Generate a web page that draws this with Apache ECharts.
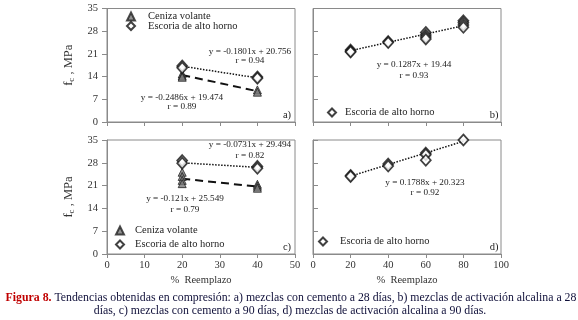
<!DOCTYPE html>
<html><head><meta charset="utf-8">
<script src="https://cdn.jsdelivr.net/npm/echarts@6/dist/echarts.min.js"></script>
<style>html,body{margin:0;padding:0;background:#fff}#c{width:578px;height:320px}</style>
</head><body><div id="c"></div>
<script>
// Panel a) cement mixes, 28 days
const aCenizaX = [20, 20, 20, 40, 40];
const aCenizaY = [14.8, 14.2, 13.8, 9.9, 9.2];
const aEscoriaX = [20, 20, 40, 40];
const aEscoriaY = [17.3, 16.7, 13.9, 13.5];
const aTrendCenizaX = [20, 40];
const aTrendCenizaY = [14.5, 9.5];
const aTrendEscoriaX = [20, 40];
const aTrendEscoriaY = [17.2, 13.6];
// Panel b) alkali activated, 28 days
const bEscoriaX = [20, 20, 20, 40, 40, 60, 60, 60, 60, 80, 80, 80, 80];
const bEscoriaY = [22.2, 21.8, 21.6, 24.8, 24.5, 27.6, 26.8, 26.2, 25.6, 31.2, 30.6, 29.9, 29.2];
const bTrendX = [20, 80];
const bTrendY = [22.0, 29.7];
// Panel c) cement mixes, 90 days
const cCenizaX = [20, 20, 20, 20, 40, 40, 40];
const cCenizaY = [25.1, 23.8, 22.6, 21.6, 21.4, 20.8, 20.2];
const cEscoriaX = [20, 20, 40, 40];
const cEscoriaY = [28.7, 27.9, 26.9, 26.3];
const cTrendCenizaX = [20, 40];
const cTrendCenizaY = [23.1, 20.7];
const cTrendEscoriaX = [20, 40];
const cTrendEscoriaY = [28.0, 26.6];
// Panel d) alkali activated, 90 days
const dEscoriaX = [20, 20, 40, 40, 60, 60, 60, 80];
const dEscoriaY = [24.1, 23.8, 27.6, 27.0, 31.0, 30.5, 28.8, 35.0];
const dTrendX = [20, 80];
const dTrendY = [23.9, 34.6];

const yTicks = [0, 7, 14, 21, 28, 35];
const xTicksLeft = [0, 10, 20, 30, 40, 50];
const xTicksRight = [0, 20, 40, 60, 80, 100];

const serNames = ['Ceniza volante', 'Escoria de alto horno'];
const equations = [
  {t: 'y = -0.1801x + 20.756', r: 'r = 0.94'},
  {t: 'y = -0.2486x + 19.474', r: 'r = 0.89'},
  {t: 'y = 0.1287x + 19.44', r: 'r = 0.93'},
  {t: 'y = -0.0731x + 29.494', r: 'r = 0.82'},
  {t: 'y = -0.121x + 25.549', r: 'r = 0.79'},
  {t: 'y = 0.1788x + 20.323', r: 'r = 0.92'}
];
const panelLabels = ['a)', 'b)', 'c)', 'd)'];
const captionRed = 'Figura 8.';
const captionLine1 = ' Tendencias obtenidas en compresión: a) mezclas con cemento a 28 días, b) mezclas de activación alcalina a 28';
const captionLine2 = 'días, c) mezclas con cemento a 90 días, d) mezclas de activación alcalina a 90 días.';

const FONT = 'Liberation Serif';
const zip = (xs, ys) => xs.map((x, i) => [x, ys[i]]);
const axisCol = '#8a8a8a';

const grids = [
  {left: 107, top: 8.5, width: 188, height: 113.5},
  {left: 313, top: 8.5, width: 188, height: 113.5},
  {left: 107, top: 140, width: 188, height: 114},
  {left: 313, top: 140, width: 188, height: 114}
];

function xAxis(i) {
  const right = i % 2 === 1;
  const ticks = right ? xTicksRight : xTicksLeft;
  const showLab = i >= 2;
  return {
    gridIndex: i, type: 'value', min: ticks[0], max: ticks[ticks.length - 1],
    interval: ticks[1] - ticks[0],
    axisLine: {lineStyle: {color: axisCol, width: 1}},
    axisTick: {show: true, length: 4, lineStyle: {color: axisCol}},
    splitLine: {show: false},
    axisLabel: {show: showLab, fontFamily: FONT, fontSize: 10.5, color: '#333', margin: 6},
    name: showLab ? '%  Reemplazo' : '',
    nameLocation: 'middle', nameGap: 21,
    nameTextStyle: {fontFamily: FONT, fontSize: 10.5, color: '#333'}
  };
}
function yAxis(i) {
  const left = i % 2 === 0;
  return {
    gridIndex: i, type: 'value', min: yTicks[0], max: yTicks[yTicks.length - 1],
    interval: yTicks[1] - yTicks[0],
    axisLine: {lineStyle: {color: axisCol, width: 1}},
    axisTick: {show: true, length: 5, inside: !left, lineStyle: {color: axisCol}},
    splitLine: {show: false},
    axisLabel: {show: left, fontFamily: FONT, fontSize: 10.5, color: '#333', margin: 9},
    name: left ? '{a|f}{s|c}{a| , MPa}' : '',
    nameLocation: 'middle', nameGap: 31, nameRotate: 90,
    nameTextStyle: {
      rich: {
        a: {fontFamily: FONT, fontSize: 12.5, color: '#333'},
        s: {fontFamily: FONT, fontSize: 9, color: '#333', padding: [6, 0, 0, 0]}
      }
    }
  };
}

const triStyle = {color: '#777', borderColor: '#222', borderWidth: 1};
const diaStyle = {color: '#fff', borderColor: '#111', borderWidth: 1.7};

function scatterC(i, xs, ys) {
  return {type: 'scatter', name: serNames[0], xAxisIndex: i, yAxisIndex: i,
    data: zip(xs, ys), symbol: 'triangle', symbolSize: 8, itemStyle: triStyle, clip: false, z: 3};
}
function scatterE(i, xs, ys) {
  return {type: 'scatter', name: serNames[1], xAxisIndex: i, yAxisIndex: i,
    data: zip(xs, ys), symbol: 'diamond', symbolSize: [10, 11], itemStyle: diaStyle, clip: false, z: 4};
}
function trend(i, xs, ys, dashed) {
  return {type: 'line', xAxisIndex: i, yAxisIndex: i, data: zip(xs, ys), symbol: 'none', silent: true,
    lineStyle: dashed ? {color: '#111', width: 2, type: [8, 5]} : {color: '#111', width: 1.5, type: [1.5, 1.5]}, z: 2};
}

const series = [
  trend(0, aTrendCenizaX, aTrendCenizaY, true),
  trend(0, aTrendEscoriaX, aTrendEscoriaY, false),
  scatterC(0, aCenizaX, aCenizaY),
  scatterE(0, aEscoriaX, aEscoriaY),
  trend(1, bTrendX, bTrendY, false),
  scatterE(1, bEscoriaX, bEscoriaY),
  trend(2, cTrendCenizaX, cTrendCenizaY, true),
  trend(2, cTrendEscoriaX, cTrendEscoriaY, false),
  scatterC(2, cCenizaX, cCenizaY),
  scatterE(2, cEscoriaX, cEscoriaY),
  trend(3, dTrendX, dTrendY, false),
  scatterE(3, dEscoriaX, dEscoriaY)
];

// one legend entry per component; (iconCenterX, centerY, textGap)
function legend(cx, cy, name, gap) {
  return {left: cx - 4, top: cy - 5, orient: 'vertical', itemWidth: 8, itemHeight: 8,
    padding: 0, selectedMode: false, data: [name],
    textStyle: {fontFamily: FONT, fontSize: 10.5, color: '#222', lineHeight: 10, padding: [0, 0, 0, gap]}};
}

function txt(x, y, s, size) {
  return {type: 'text', x: x, y: y, style: {text: s, fill: '#222',
    font: (size || 9.2) + 'px "' + FONT + '"', textAlign: 'center', textVerticalAlign: 'middle'}};
}
const eqPos = [[250, 52, 61], [182, 98, 107], [414, 65, 76], [250, 145, 156], [185, 199, 210], [425, 183, 193]];
const graphics = [];
equations.forEach((e, k) => {
  graphics.push(txt(eqPos[k][0], eqPos[k][1], e.t));
  graphics.push(txt(eqPos[k][0], eqPos[k][2], e.r));
});
const plPos = [[287, 115], [494, 115], [287, 247], [494, 247]];
panelLabels.forEach((p, k) => graphics.push(txt(plPos[k][0], plPos[k][1], p, 10.5)));
graphics.push({type: 'text', x: 291, y: 298, style: {
  text: '{r|' + captionRed + '}{k|' + captionLine1 + '}', textAlign: 'center', textVerticalAlign: 'middle',
  rich: {r: {fontFamily: FONT, fontSize: 11.8, fill: '#c00000', fontWeight: 'bold'},
         k: {fontFamily: FONT, fontSize: 11.8, fill: '#10103a'}}}});
graphics.push({type: 'text', x: 290, y: 311, style: {
  text: captionLine2, textAlign: 'center', textVerticalAlign: 'middle',
  font: '11.8px "' + FONT + '"', fill: '#10103a'}});

const chart = echarts.init(document.getElementById('c'), null, {renderer: 'canvas'});
chart.setOption({
  animation: false,
  backgroundColor: '#fff',
  grid: grids.map(g => Object.assign({show: true, borderColor: axisCol, borderWidth: 1, backgroundColor: 'transparent'}, g)),
  xAxis: [0, 1, 2, 3].map(xAxis),
  yAxis: [0, 1, 2, 3].map(yAxis),
  legend: [
    legend(130, 16, serNames[0], 8),
    legend(130, 25.5, serNames[1], 8),
    legend(331, 112, serNames[1], 4),
    legend(119, 230, serNames[0], 6),
    legend(119, 244, serNames[1], 6),
    legend(322, 241, serNames[1], 8)
  ],
  series: series,
  graphic: graphics
});
</script></body></html>
